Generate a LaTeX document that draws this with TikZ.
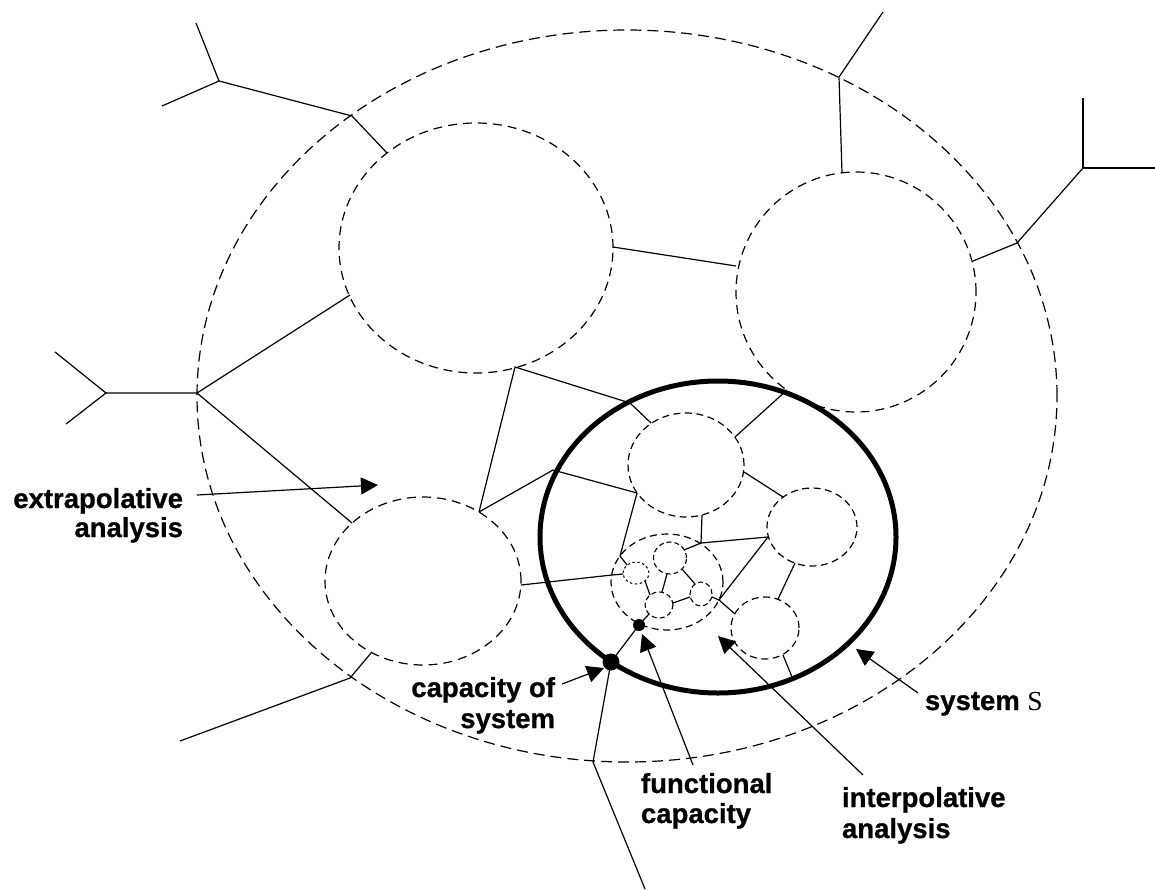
\documentclass[tikz,border=0pt]{standalone}
\usepackage{fontspec}
\setmainfont{Liberation Sans}
\newfontfamily\lblfont[BoldFeatures={FakeBold=0.8}]{Liberation Sans}
\newfontfamily\serifS{Liberation Serif}
\usetikzlibrary{arrows.meta,shapes.geometric}

\begin{document}
\begin{tikzpicture}[x=1pt,y=-1pt,
  wire/.style={line width=1.2pt, line join=miter},
  outerline/.style={draw, ellipse, inner sep=0pt, outer sep=0pt, line width=1.2pt, dash pattern=on 11pt off 6pt},
  ringbig/.style={draw, ellipse, inner sep=0pt, outer sep=0pt, line width=1.2pt, dash pattern=on 9pt off 6pt},
  ringmid/.style={draw, ellipse, inner sep=0pt, outer sep=0pt, line width=1.2pt, dash pattern=on 7pt off 4.5pt},
  ringsmall/.style={draw, ellipse, inner sep=0pt, outer sep=0pt, line width=1.1pt, dash pattern=on 5pt off 3pt},
  ringdot/.style={draw, ellipse, inner sep=0pt, outer sep=0pt, line width=1pt, dash pattern=on 2.5pt off 2.5pt},
  sysring/.style={draw, ellipse, inner sep=0pt, outer sep=0pt, line width=5pt},
  dotbig/.style={circle, fill=black, inner sep=0pt, minimum size=17pt},
  dotsmall/.style={circle, fill=black, inner sep=0pt, minimum size=12pt},
  pointer/.style={line width=1.2pt, -{Triangle[length=17pt,width=17pt]}},
  lbl/.style={font=\fontsize{27.5}{30}\selectfont\lblfont\bfseries, inner sep=0pt, outer sep=0pt}
]
\useasboundingbox (0,0) rectangle (1155,889);

% boundary of the surroundings
\node[outerline, minimum width=860pt, minimum height=732pt] (O) at (627,396) {};

% subsystems
\node[ringbig, minimum width=274pt, minimum height=250pt] (A) at (476,248) {};
\node[ringbig, minimum width=240pt, minimum height=240pt] (B) at (856,292) {};
\node[ringbig, minimum width=196pt, minimum height=168pt] (C) at (423,581) {};
\node[sysring, minimum width=356pt, minimum height=312pt] (S) at (718,537) {};
\node[ringmid, minimum width=116pt, minimum height=104pt] (D) at (686,465) {};
\node[ringmid, minimum width=90pt, minimum height=78pt] (E) at (812,527) {};
\node[ringmid, minimum width=68pt, minimum height=62pt] (F) at (765,628) {};
\node[ringmid, minimum width=112pt, minimum height=96pt] (G) at (667,582) {};
\node[ringsmall, minimum width=33pt, minimum height=32pt] (g1) at (670,558) {};
\node[ringdot, minimum width=26pt, minimum height=22pt] (g2) at (636,573) {};
\node[ringsmall, minimum width=28pt, minimum height=26pt] (g3) at (659,605) {};
\node[ringsmall, minimum width=22pt, minimum height=24pt] (g4) at (701,594) {};

% junctions on the outer boundary and free ends
\coordinate (oTL) at (352,116);
\coordinate (oT)  at (839,77);
\coordinate (oR)  at (1017,243);
\coordinate (oL)  at (197,393);
\coordinate (oBL) at (350,678);
\coordinate (oB)  at (593,762);
\coordinate (yTL) at (219,81);
\coordinate (eTLa) at (196,23);
\coordinate (eTLb) at (162,106);
\coordinate (eT)  at (883,12);
\coordinate (yR)  at (1083,168);
\coordinate (eRa) at (1083,98);
\coordinate (eRb) at (1155,168);
\coordinate (yL)  at (106,393);
\coordinate (eLa) at (55,352);
\coordinate (eLb) at (66,424);
\coordinate (eBL) at (180,741);
\coordinate (eB)  at (645,889);

% junctions on the subsystems
\coordinate (a1) at (387,153);
\coordinate (a2) at (350,295);
\coordinate (a3) at (613,247);
\coordinate (a4) at (515,367);
\coordinate (b1) at (842,173);
\coordinate (b2) at (736,266);
\coordinate (b3) at (973,261);
\coordinate (b4) at (787,390);
\coordinate (c1) at (352,523);
\coordinate (c2) at (479,512);
\coordinate (c3) at (521,585);
\coordinate (c4) at (371,653);
\coordinate (s1) at (630,403);
\coordinate (s2) at (553,470);
\coordinate (s3) at (792,677);
\coordinate (d1) at (651,423);
\coordinate (d2) at (744,472);
\coordinate (d3) at (637,493);
\coordinate (d4) at (702,515);
\coordinate (d5) at (735,437);
\coordinate (e1) at (783,497);
\coordinate (e2) at (768,537);
\coordinate (e3) at (795,563);
\coordinate (f1) at (778,599);
\coordinate (f2) at (735,614);
\coordinate (f3) at (783,655);
\coordinate (gA) at (620,556);
\coordinate (gB) at (612,575);
\coordinate (gC) at (701,543);
\coordinate (gD) at (719,600);
\coordinate (g1b) at (667,574);
\coordinate (g1r) at (682,569);
\coordinate (g1t) at (684,550);
\coordinate (g2l) at (623,574);
\coordinate (g2t) at (627,565);
\coordinate (g2r) at (645,581);
\coordinate (g3t) at (662,592);
\coordinate (g3l) at (650,595);
\coordinate (g3r) at (673,603);
\coordinate (g3b) at (649,614);
\coordinate (g4t) at (695,584);
\coordinate (g4l) at (690,597);
\coordinate (g4r) at (712,597);

% capacity points
\node[dotbig] (cap) at (611,662) {};
\node[dotsmall] (fcap) at (639,625) {};

% connections
\draw[wire] (eTLa) -- (yTL) -- (eTLb);
\draw[wire] (yTL) -- (oTL) -- (a1);
\draw[wire] (eT) -- (oT) -- (b1);
\draw[wire] (a3) -- (b2);
\draw[wire] (b3) -- (oR) -- (yR);
\draw[wire] (eRa) -- (yR) -- (eRb);
\draw[wire] (eLa) -- (yL) -- (eLb);
\draw[wire] (yL) -- (oL) -- (a2);
\draw[wire] (oL) -- (c1);
\draw[wire] (c2) -- (a4) -- (s1) -- (d1);
\draw[wire] (c2) -- (s2) -- (d3);
\draw[wire] (d3) -- (gA) -- (g2t);
\draw[wire] (c3) -- (gB) -- (g2l);
\draw[wire] (d4) -- (gC) -- (e2);
\draw[wire] (gC) -- (g1t);
\draw[wire] (b4) -- (d5);
\draw[wire] (d2) -- (e1);
\draw[wire] (e2) -- (gD) -- (f2);
\draw[wire] (g4r) -- (gD);
\draw[wire] (e3) -- (f1);
\draw[wire] (f3) -- (s3);
\draw[wire] (c4) -- (oBL) -- (eBL);
\draw[wire] (g1b) -- (g3t);
\draw[wire] (g2r) -- (g3l);
\draw[wire] (g1r) -- (g4t);
\draw[wire] (g3r) -- (g4l);
\draw[wire] (cap.center) -- (oB) -- (eB);
\draw[wire] (cap.center) -- (fcap.center);
\draw[wire] (fcap.center) -- (g3b);

% labels
\node[lbl, anchor=base east] (ex1) at (183,508) {extrapolative};
\node[lbl, anchor=base east] (ex2) at (183,537) {analysis};
\node[lbl, anchor=base east] (cs1) at (555,697) {capacity of};
\node[lbl, anchor=base east] (cs2) at (555,728) {system};
\node[lbl, anchor=base west] (fc1) at (641,793) {functional};
\node[lbl, anchor=base west] (fc2) at (641,823) {capacity};
\node[lbl, anchor=base west] (ip1) at (842,807) {interpolative};
\node[lbl, anchor=base west] (ip2) at (842,838) {analysis};
\node[lbl, anchor=base west] (sy) at (925,710) {system {\serifS\mdseries S}};

% pointers
\coordinate (exT) at (197,495);  \coordinate (exH) at (378,485);
\coordinate (csT) at (562,684);  \coordinate (csH) at (604,668);
\coordinate (fcT) at (693,765);  \coordinate (fcH) at (642,634);
\coordinate (ipT) at (863,775);  \coordinate (ipH) at (718,636);
\coordinate (syT) at (918,693);  \coordinate (syH) at (856,649);
\draw[pointer] (exT) -- (exH);
\draw[pointer] (csT) -- (csH);
\draw[pointer] (fcT) -- (fcH);
\draw[pointer] (ipT) -- (ipH);
\draw[pointer] (syT) -- (syH);
\end{tikzpicture}
\end{document}
